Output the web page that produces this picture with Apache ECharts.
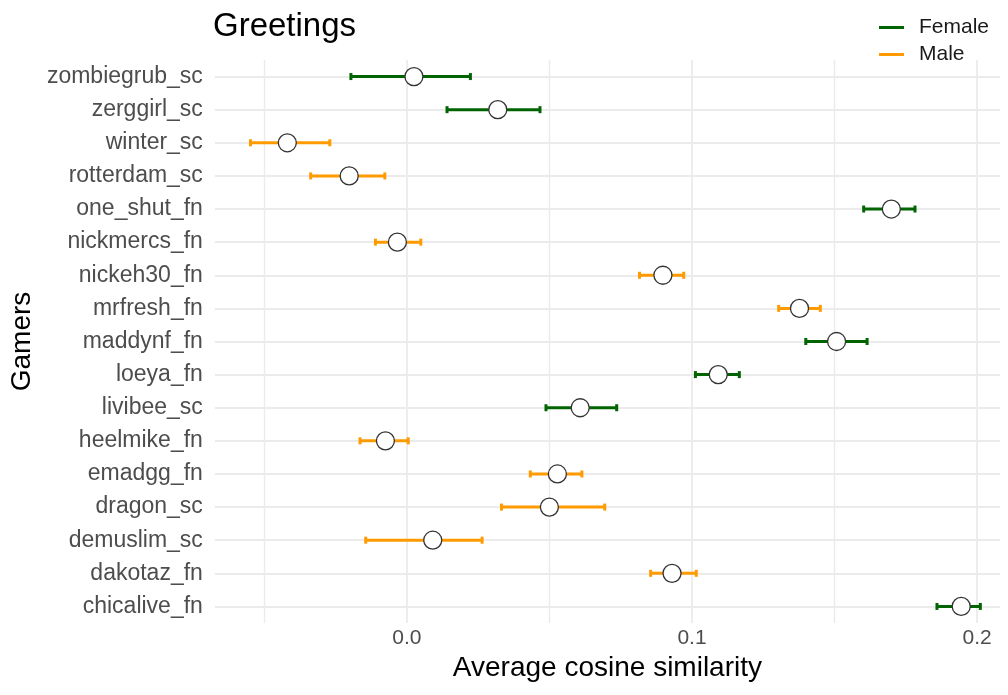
<!DOCTYPE html>
<html>
<head>
<meta charset="utf-8">
<script src="https://cdn.jsdelivr.net/npm/echarts@6/dist/echarts.min.js"></script>
<style>html,body{margin:0;padding:0;background:#fff;}#chart{width:1008px;height:695px;}</style>
</head>
<body>
<div id="chart"></div>
<script>
// Categories, top to bottom
const gamers = ['zombiegrub_sc','zerggirl_sc','winter_sc','rotterdam_sc','one_shut_fn','nickmercs_fn','nickeh30_fn','mrfresh_fn','maddynf_fn','loeya_fn','livibee_sc','heelmike_fn','emadgg_fn','dragon_sc','demuslim_sc','dakotaz_fn','chicalive_fn'];
const gender = ['Female','Female','Male','Male','Female','Male','Male','Male','Female','Female','Female','Male','Male','Male','Male','Male','Female'];
const meanSim = [0.0025,0.0319,-0.0419,-0.0202,0.1699,-0.0033,0.0898,0.1377,0.1507,0.1092,0.0608,-0.0075,0.0528,0.0500,0.0091,0.0930,0.1944];
const lowerCI = [-0.0196,0.0141,-0.0548,-0.0337,0.1602,-0.0110,0.0816,0.1304,0.1399,0.1012,0.0488,-0.0164,0.0433,0.0332,-0.0144,0.0855,0.1859];
const upperCI = [0.0223,0.0467,-0.0270,-0.0077,0.1782,0.0049,0.0971,0.1450,0.1614,0.1166,0.0736,0.0005,0.0614,0.0694,0.0264,0.1015,0.2011];
const majorTicks = [0.0, 0.1, 0.2];
const minorTicks = [-0.05, 0.05, 0.15];
const colors = {Female: '#006400', Male: '#FF9A00'};

const chart = echarts.init(document.getElementById('chart'));
const font = 'Liberation Sans, Arial, sans-serif';

function errSeries(g) {
  const data = [];
  gamers.forEach((n, i) => { if (gender[i] === g) data.push([lowerCI[i], upperCI[i], n]); });
  return {
    name: g, type: 'custom', z: 3,
    itemStyle: {color: colors[g]},
    encode: {x: [0, 1], y: 2},
    data: data,
    renderItem: function (params, api) {
      const y = api.value(2);
      const p1 = api.coord([api.value(0), y]);
      const p2 = api.coord([api.value(1), y]);
      const c = colors[g];
      const t = 3, h = 7;
      return {type: 'group', children: [
        {type: 'rect', shape: {x: p1[0], y: p1[1] - t / 2, width: p2[0] - p1[0], height: t}, style: {fill: c}},
        {type: 'rect', shape: {x: p1[0] - 1.5, y: p1[1] - h / 2, width: 3, height: h}, style: {fill: c}},
        {type: 'rect', shape: {x: p2[0] - 1.5, y: p2[1] - h / 2, width: 3, height: h}, style: {fill: c}}
      ]};
    }
  };
}

const option = {
  animation: false,
  backgroundColor: '#fff',
  title: {text: 'Greetings', left: 208, top: 5, textStyle: {fontFamily: font, fontSize: 33, fontWeight: 'normal', color: '#000'}},
  legend: {
    data: [{name: 'Female', icon: 'rect'}, {name: 'Male', icon: 'rect'}],
    orient: 'vertical', left: 874, top: 12, itemWidth: 25, itemHeight: 3, itemGap: 6,
    textStyle: {fontFamily: font, fontSize: 21, color: '#1a1a1a', padding: [0, 0, 0, 10]}
  },
  grid: {left: 214, right: 8, top: 60, height: 563},
  xAxis: {
    type: 'value', min: -0.0673, max: 0.208,
    name: 'Average cosine similarity', nameLocation: 'middle', nameGap: 31,
    nameTextStyle: {fontFamily: font, fontSize: 28, color: '#000'},
    axisLine: {show: false}, axisTick: {show: false}, splitLine: {show: false},
    axisLabel: {customValues: majorTicks, formatter: v => v.toFixed(1), fontFamily: font, fontSize: 21, color: '#4D4D4D', margin: 5}
  },
  yAxis: {
    type: 'category', data: gamers, inverse: true,
    name: 'Gamers', nameLocation: 'middle', nameGap: 166, nameRotate: 90,
    nameTextStyle: {fontFamily: font, fontSize: 28, color: '#000'},
    axisLine: {show: false}, axisTick: {show: false}, splitLine: {show: false},
    axisLabel: {fontFamily: font, fontSize: 23, color: '#4D4D4D', margin: 12}
  },
  series: [
    {
      type: 'line', data: [], z: 1, silent: true,
      markLine: {
        silent: true, symbol: 'none', label: {show: false}, animation: false, z: 1,
        data: [].concat(
          gamers.map(n => ({yAxis: n, lineStyle: {color: '#EBEBEB', width: 1.8, type: 'solid'}})),
          majorTicks.map(v => ({xAxis: v, lineStyle: {color: '#EBEBEB', width: 1.8, type: 'solid'}})),
          minorTicks.map(v => ({xAxis: v, lineStyle: {color: '#EBEBEB', width: 1.4, type: 'solid'}}))
        )
      }
    },
    errSeries('Female'),
    errSeries('Male'),
    {
      type: 'scatter', z: 5, symbol: 'circle', symbolSize: 18,
      itemStyle: {color: '#fff', borderColor: '#333', borderWidth: 1.3, opacity: 1},
      data: gamers.map((n, i) => [meanSim[i], n])
    }
  ]
};
chart.setOption(option);
</script>
</body>
</html>
